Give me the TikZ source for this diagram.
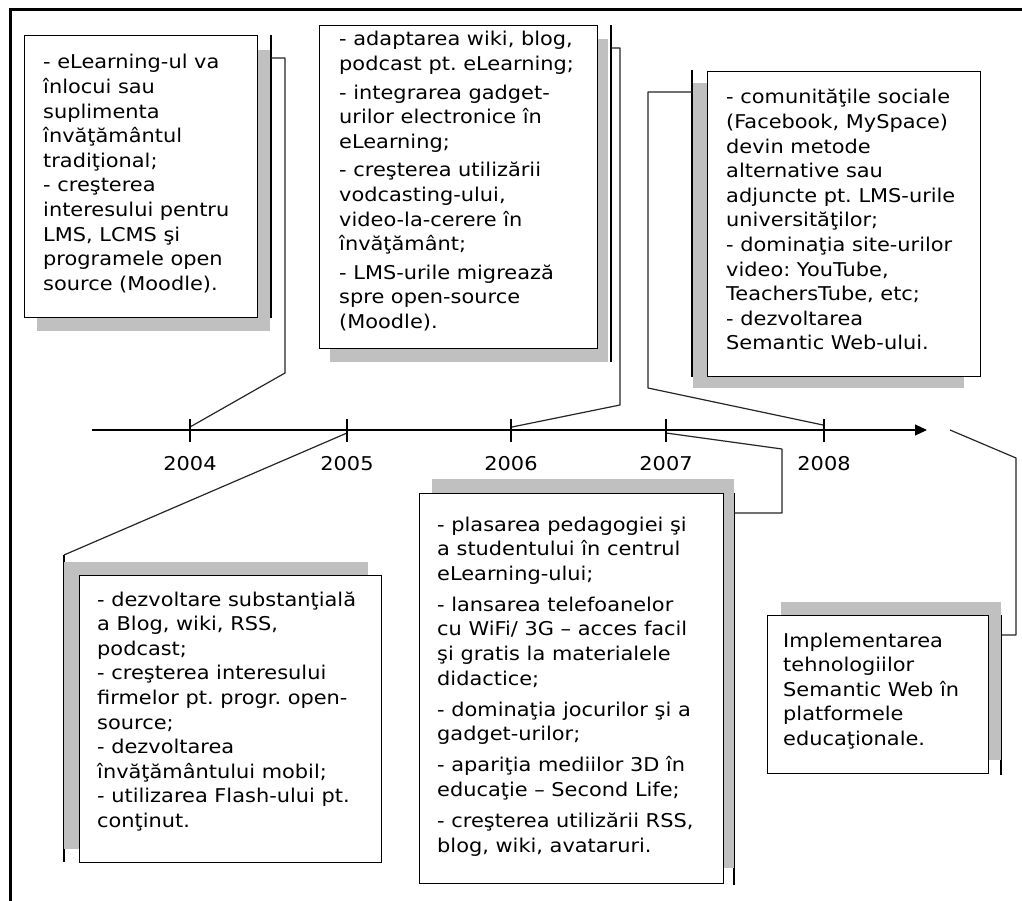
\documentclass[tikz,border=0pt]{standalone}
\usepackage{fontspec}
\setmainfont{DejaVu Sans}[FakeStretch=1.1]
\usetikzlibrary{arrows.meta}
\definecolor{shadowgray}{RGB}{192,192,192}
\newcommand{\cardlines}[1]{\parbox[t]{320pt}{\fontsize{19}{24.6}\selectfont\raggedright\frenchspacing #1}}

\begin{document}
\begin{tikzpicture}[x=1pt, y=-1pt,
  card/.style={draw=black, line width=1.3pt, fill=white, inner sep=0pt, anchor=north west},
  cardshadow/.style={fill=shadowgray},
  bracket/.style={draw=black, line width=1.3pt},
  leader/.style={draw=black!85, line width=1.2pt, line join=round},
  cardtext/.style={inner sep=0pt, anchor=base west},
  year/.style={inner sep=0pt, anchor=base, font=\fontsize{19}{22}\selectfont},
  tickmark/.style={draw=black, line width=1.2pt},
  axisline/.style={draw=black, line width=1.2pt, -{Triangle[length=12pt,width=11pt]}},
]
\useasboundingbox (0,0) rectangle (1022,901);
\fill[white] (0,0) rectangle (1022,901);

% outer frame (top and left edges)
\draw[line width=3pt] (10,901) -- (10,10) -- (1022,10);

% ---- connector points ----
\coordinate (a04) at (190,427);
\coordinate (a05) at (347,433);
\coordinate (a06) at (512,427);
\coordinate (a07) at (666,433);
\coordinate (a08) at (823,425);
\coordinate (aend) at (950,430);

\coordinate (k1a) at (285,373); \coordinate (k1b) at (285,58);  \coordinate (k1c) at (271,58);
\coordinate (k2a) at (620,405); \coordinate (k2b) at (620,48);  \coordinate (k2c) at (611,48);
\coordinate (k3a) at (648,388); \coordinate (k3b) at (648,92);  \coordinate (k3c) at (692,92);
\coordinate (k4a) at (64,555);
\coordinate (k5a) at (782,449); \coordinate (k5b) at (782,513); \coordinate (k5c) at (734,513);
\coordinate (k6a) at (1016,458);\coordinate (k6b) at (1016,635);\coordinate (k6c) at (1002,635);

% ---- brackets beside the cards ----
\draw[bracket] (271,35) -- (271,318);
\draw[bracket] (611,25) -- (611,362);
\draw[bracket] (692,70) -- (692,377);
\draw[bracket] (64,555) -- (64,862);
\draw[bracket] (734,493) -- (734,885);
\draw[bracket] (1001,615) -- (1001,775);

% ---- leaders from the time axis to the brackets ----
\draw[leader] (a04) -- (k1a) -- (k1b) -- (k1c);
\draw[leader] (a06) -- (k2a) -- (k2b) -- (k2c);
\draw[leader] (a08) -- (k3a) -- (k3b) -- (k3c);
\draw[leader] (a05) -- (k4a);
\draw[leader] (a07) -- (k5a) -- (k5b) -- (k5c);
\draw[leader] (aend) -- (k6a) -- (k6b) -- (k6c);

% ---- shadows ----
\fill[cardshadow] (37,50) rectangle (270,331);
\fill[cardshadow] (330,39) rectangle (608,362);
\fill[cardshadow] (693,83) rectangle (964,388);
\fill[cardshadow] (63.5,562) rectangle (368,849);
\fill[cardshadow] (432,479) rectangle (734,868);
\fill[cardshadow] (781,602) rectangle (1001,760);

% ---- cards ----
\node[card, minimum width=233pt, minimum height=282pt] (b1) at (24,35) {};
\node[card, minimum width=278pt, minimum height=323pt] (b2) at (319,25) {};
\node[card, minimum width=273pt, minimum height=305pt] (b3) at (707,71) {};
\node[card, minimum width=302pt, minimum height=287pt] (b4) at (79,575) {};
\node[card, minimum width=304pt, minimum height=390pt] (b5) at (419,493) {};
\node[card, minimum width=221pt, minimum height=158pt] (b6) at (767,615) {};

% ---- card texts ----
\node[cardtext] (t1) at (43,69) {\cardlines{%
- eLearning-ul va\\
înlocui sau\\
suplimenta\\
învăţământul\\
tradiţional;\\
- creşterea\\
interesului pentru\\
LMS, LCMS şi\\
programele open\\
source (Moodle).}};

\node[cardtext] (t2) at (339,46) {\cardlines{%
- adaptarea wiki, blog,\\
podcast pt. eLearning;\\[4pt]
- integrarea gadget-\\
urilor electronice în\\
eLearning;\\[4pt]
- creşterea utilizării\\
vodcasting-ului,\\
video-la-cerere în\\
învăţământ;\\[4pt]
- LMS-urile migrează\\
spre open-source\\
(Moodle).}};

\node[cardtext] (t3) at (726,104) {\cardlines{%
- comunităţile sociale\\
(Facebook, MySpace)\\
devin metode\\
alternative sau\\
adjuncte pt. LMS-urile\\
universităţilor;\\
- dominaţia site-urilor\\
video: YouTube,\\
TeachersTube, etc;\\
- dezvoltarea\\
Semantic Web-ului.}};

\node[cardtext] (t4) at (97,606) {\cardlines{%
- dezvoltare substanţială\\
a Blog, wiki, RSS,\\
podcast;\\
- creşterea interesului\\
firmelor pt. progr. open-\\
source;\\
- dezvoltarea\\
învăţământului mobil;\\
- utilizarea Flash-ului pt.\\
conţinut.}};

\node[cardtext] (t5) at (437,531) {\cardlines{%
- plasarea pedagogiei şi\\
a studentului în centrul\\
eLearning-ului;\\[6.5pt]
- lansarea telefoanelor\\
cu WiFi/ 3G – acces facil\\
şi gratis la materialele\\
didactice;\\[6.5pt]
- dominaţia jocurilor şi a\\
gadget-urilor;\\[6.5pt]
- apariţia mediilor 3D în\\
educaţie – Second Life;\\[6.5pt]
- creşterea utilizării RSS,\\
blog, wiki, avataruri.}};

\node[cardtext] (t6) at (783,647) {\cardlines{%
Implementarea\\
tehnologiilor\\
Semantic Web în\\
platformele\\
educaţionale.}};

% ---- time axis ----
\draw[axisline] (92,430) -- (927,430);
\draw[tickmark] (190,419) -- (190,442);
\draw[tickmark] (347,419) -- (347,442);
\draw[tickmark] (511,419) -- (511,442);
\draw[tickmark] (666,419) -- (666,442);
\draw[tickmark] (824,419) -- (824,442);
\node[year] (y04) at (190,470) {2004};
\node[year] (y05) at (347,470) {2005};
\node[year] (y06) at (511,470) {2006};
\node[year] (y07) at (666,470) {2007};
\node[year] (y08) at (824,470) {2008};
\end{tikzpicture}
\end{document}
